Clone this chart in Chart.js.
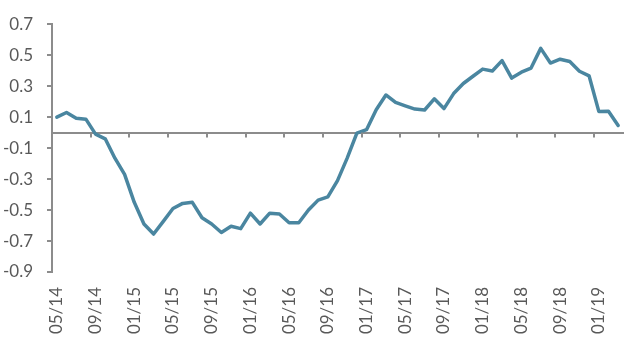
<!DOCTYPE html>
<html>
<head>
<meta charset="utf-8">
<script src="https://cdn.jsdelivr.net/npm/chart.js@4/dist/chart.umd.min.js"></script>
<style>
  html, body { margin: 0; padding: 0; background: #fff; }
  #wrap { width: 639px; height: 347px; }
</style>
</head>
<body>
<div id="wrap"><canvas id="chart"></canvas></div>
<script>
// months 05/14 .. 03/19
const months = [
  '05/14','06/14','07/14','08/14','09/14','10/14','11/14','12/14',
  '01/15','02/15','03/15','04/15','05/15','06/15','07/15','08/15','09/15','10/15','11/15','12/15',
  '01/16','02/16','03/16','04/16','05/16','06/16','07/16','08/16','09/16','10/16','11/16','12/16',
  '01/17','02/17','03/17','04/17','05/17','06/17','07/17','08/17','09/17','10/17','11/17','12/17',
  '01/18','02/18','03/18','04/18','05/18','06/18','07/18','08/18','09/18','10/18','11/18','12/18',
  '01/19','02/19','03/19'
];

const values = [
  0.10, 0.13, 0.093, 0.087, -0.01, -0.04, -0.165, -0.27,
  -0.45, -0.59, -0.655, -0.573, -0.49, -0.457, -0.45, -0.55, -0.59, -0.645, -0.605, -0.62,
  -0.52, -0.59, -0.52, -0.525, -0.582, -0.582, -0.50, -0.436, -0.415, -0.31, -0.165, -0.004,
  0.019, 0.148, 0.243, 0.195, 0.173, 0.152, 0.146, 0.218, 0.155, 0.252, 0.317, 0.364,
  0.41, 0.398, 0.465, 0.352, 0.39, 0.417, 0.544, 0.449, 0.474, 0.459, 0.396, 0.366,
  0.137, 0.138, 0.046
];

const yTicks = [-0.9, -0.7, -0.5, -0.3, -0.1, 0.1, 0.3, 0.5, 0.7];
const labelEvery = 4;

const axisGray = '#8c8c8c';
const textGray = '#595959';
const lineBlue = '#4a86a0';
const font = { family: 'Lato', size: 17 };

// small tick marks under the zero line, between categories, every 4 months
const zeroTicks = {
  id: 'zeroTicks',
  afterDraw(chart) {
    const x = chart.scales.x, y = chart.scales.y;
    const y0 = y.getPixelForValue(0);
    const half = (x.getPixelForValue(1) - x.getPixelForValue(0)) / 2;
    const c = chart.ctx;
    c.save();
    c.strokeStyle = axisGray;
    c.lineWidth = 2;
    c.beginPath();
    for (let i = labelEvery; i < months.length; i += labelEvery) {
      const px = Math.round(x.getPixelForValue(i) - half);
      c.moveTo(px, y0);
      c.lineTo(px, y0 + 5);
    }
    c.stroke();
    c.restore();
  }
};

const ctx = document.getElementById('chart').getContext('2d');
new Chart(ctx, {
  type: 'line',
  data: {
    labels: months,
    datasets: [{
      data: values,
      xAxisID: 'x',
      yAxisID: 'y',
      borderColor: lineBlue,
      borderWidth: 3.5,
      borderJoinStyle: 'round',
      borderCapStyle: 'round',
      pointRadius: 0,
      tension: 0,
      fill: false
    }]
  },
  options: {
    responsive: true,
    maintainAspectRatio: false,
    animation: false,
    layout: { padding: { left: 0, right: 16, top: 6, bottom: 13 } },
    plugins: { legend: { display: false }, tooltip: { enabled: false } },
    scales: {
      y: {
        min: -0.9,
        max: 0.7,
        afterBuildTicks: (axis) => { axis.ticks = yTicks.map(v => ({ value: v })); },
        afterFit: (axis) => { axis.width = 52; },
        border: { display: true, color: axisGray, width: 2 },
        grid: { drawOnChartArea: false, drawTicks: true, tickLength: 5, color: axisGray, lineWidth: 2 },
        ticks: { color: textGray, font: font, padding: 14, callback: v => v.toFixed(1) }
      },
      // category axis crossing at zero
      x: {
        type: 'category',
        position: { y: 0 },
        offset: true,
        border: { display: true, color: axisGray, width: 2 },
        grid: { display: false },
        ticks: { display: false, autoSkip: false }
      },
      // date labels at the bottom
      xl: {
        type: 'category',
        position: 'bottom',
        offset: true,
        afterFit: (axis) => { axis.height = 62; axis.paddingLeft = 0; axis.paddingRight = 0; },
        border: { display: false },
        grid: { display: false, drawTicks: false },
        ticks: {
          color: textGray,
          font: font,
          autoSkip: false,
          maxRotation: 90,
          minRotation: 90,
          padding: 15,
          callback: function (val, i) { return i % labelEvery === 0 ? months[i] : ''; }
        }
      }
    }
  },
  plugins: [zeroTicks]
});
</script>
</body>
</html>
